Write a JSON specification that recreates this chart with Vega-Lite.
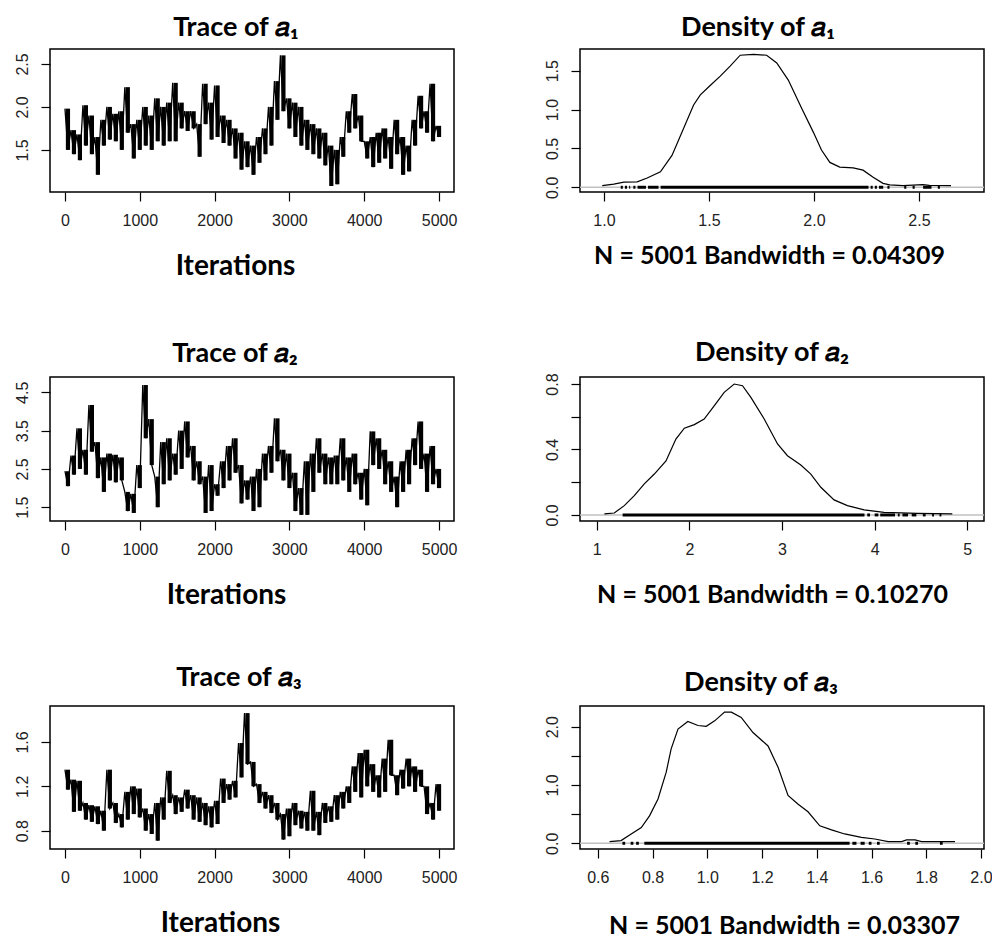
{
  "$schema": "https://vega.github.io/schema/vega-lite/v6.json",
  "background": "white",
  "padding": {"left": 13, "top": 13, "right": 5, "bottom": 5},
  "columns": 2,
  "spacing": {"row": 185, "column": 126},
  "bounds": "flush",
  "config": {
    "view": {"stroke": "black", "strokeWidth": 1.5},
    "axis": {"domain": false, "grid": false, "tickColor": "black", "tickWidth": 1.2, "tickSize": 9,
      "labelFont": "Liberation Sans", "labelFontSize": 16, "labelColor": "#222", "labelPadding": 11,
      "titleFont": "Lato", "titleFontSize": 25, "titleFontWeight": "bold", "titleColor": "black"},
    "axisY": {"labelAngle": -90, "labelAlign": "center", "labelBaseline": "top", "labelPadding": 27, "title": null},
    "title": {"font": "Lato", "fontSize": 27, "fontWeight": "bold", "color": "black", "anchor": "middle", "baseline": "alphabetic"}
  },
  "datasets": {
    "trace": [
      {"it":0,"a1":1.98,"a2":2.44,"a3":1.35},{"it":40,"a1":1.5,"a2":2.05,"a3":1.17},
      {"it":80,"a1":1.73,"a2":2.85,"a3":1.26},{"it":120,"a1":1.45,"a2":2.35,"a3":0.97},
      {"it":160,"a1":1.68,"a2":3.56,"a3":1.25},{"it":200,"a1":1.38,"a2":2.5,"a3":0.98},
      {"it":240,"a1":2.02,"a2":3.0,"a3":1.05},{"it":280,"a1":1.55,"a2":2.35,"a3":0.9},
      {"it":320,"a1":1.9,"a2":4.17,"a3":1.03},{"it":360,"a1":1.45,"a2":2.95,"a3":0.88},
      {"it":400,"a1":1.65,"a2":3.2,"a3":1.02},{"it":440,"a1":1.21,"a2":2.26,"a3":0.86},
      {"it":480,"a1":1.85,"a2":2.8,"a3":0.98},{"it":520,"a1":1.55,"a2":1.9,"a3":0.8},
      {"it":560,"a1":2.0,"a2":2.9,"a3":1.35},{"it":600,"a1":1.62,"a2":2.2,"a3":1.0},
      {"it":640,"a1":1.92,"a2":2.87,"a3":1.05},{"it":680,"a1":1.6,"a2":2.15,"a3":0.87},
      {"it":720,"a1":1.95,"a2":2.8,"a3":0.95},{"it":760,"a1":1.5,"a2":2.2,"a3":0.83},
      {"it":800,"a1":2.23,"a2":1.9,"a3":1.15},{"it":840,"a1":1.7,"a2":1.4,"a3":0.9},
      {"it":880,"a1":1.8,"a2":1.85,"a3":1.2},{"it":920,"a1":1.4,"a2":1.35,"a3":0.95},
      {"it":960,"a1":1.85,"a2":2.6,"a3":1.18},{"it":1000,"a1":1.5,"a2":2.0,"a3":0.92},
      {"it":1040,"a1":2.0,"a2":4.69,"a3":1.0},{"it":1080,"a1":1.55,"a2":3.3,"a3":0.8},
      {"it":1120,"a1":1.9,"a2":3.8,"a3":0.95},{"it":1160,"a1":1.5,"a2":2.6,"a3":0.77},
      {"it":1200,"a1":2.1,"a2":2.3,"a3":1.05},{"it":1240,"a1":1.6,"a2":1.5,"a3":0.71},
      {"it":1280,"a1":2.0,"a2":3.2,"a3":1.1},{"it":1320,"a1":1.55,"a2":2.1,"a3":0.9},
      {"it":1360,"a1":2.05,"a2":3.3,"a3":1.34},{"it":1400,"a1":1.6,"a2":2.2,"a3":1.05},
      {"it":1440,"a1":2.28,"a2":2.9,"a3":1.12},{"it":1480,"a1":1.6,"a2":2.35,"a3":0.95},
      {"it":1520,"a1":2.05,"a2":3.5,"a3":1.1},{"it":1560,"a1":1.75,"a2":2.5,"a3":0.97},
      {"it":1600,"a1":1.95,"a2":3.74,"a3":1.17},{"it":1640,"a1":1.72,"a2":2.8,"a3":1.0},
      {"it":1680,"a1":1.95,"a2":3.1,"a3":1.12},{"it":1720,"a1":1.75,"a2":2.2,"a3":0.9},
      {"it":1760,"a1":1.8,"a2":2.7,"a3":1.1},{"it":1800,"a1":1.42,"a2":2.1,"a3":0.88},
      {"it":1840,"a1":2.27,"a2":2.3,"a3":1.05},{"it":1880,"a1":1.8,"a2":1.35,"a3":0.85},
      {"it":1920,"a1":2.05,"a2":2.6,"a3":1.02},{"it":1960,"a1":1.62,"a2":1.4,"a3":0.83},
      {"it":2000,"a1":2.25,"a2":2.1,"a3":1.07},{"it":2040,"a1":1.65,"a2":1.8,"a3":0.86},
      {"it":2080,"a1":1.9,"a2":2.7,"a3":1.27},{"it":2120,"a1":1.58,"a2":2.0,"a3":1.05},
      {"it":2160,"a1":1.85,"a2":3.1,"a3":1.22},{"it":2200,"a1":1.55,"a2":2.2,"a3":1.08},
      {"it":2240,"a1":1.75,"a2":3.3,"a3":1.25},{"it":2280,"a1":1.4,"a2":2.4,"a3":1.1},
      {"it":2320,"a1":1.7,"a2":2.6,"a3":1.59},{"it":2360,"a1":1.27,"a2":1.6,"a3":1.28},
      {"it":2400,"a1":1.6,"a2":2.2,"a3":1.86},{"it":2440,"a1":1.3,"a2":1.7,"a3":1.4},
      {"it":2480,"a1":1.55,"a2":2.3,"a3":1.42},{"it":2520,"a1":1.21,"a2":1.4,"a3":1.2},
      {"it":2560,"a1":1.65,"a2":2.5,"a3":1.22},{"it":2600,"a1":1.35,"a2":1.5,"a3":1.05},
      {"it":2640,"a1":1.75,"a2":2.9,"a3":1.15},{"it":2680,"a1":1.45,"a2":2.2,"a3":1.0},
      {"it":2720,"a1":2.0,"a2":3.1,"a3":1.12},{"it":2760,"a1":1.55,"a2":2.4,"a3":0.96},
      {"it":2800,"a1":2.3,"a2":3.82,"a3":1.05},{"it":2840,"a1":1.85,"a2":2.7,"a3":0.9},
      {"it":2880,"a1":2.6,"a2":3.0,"a3":0.95},{"it":2920,"a1":1.95,"a2":2.2,"a3":0.72},
      {"it":2960,"a1":2.1,"a2":2.9,"a3":1.0},{"it":3000,"a1":1.75,"a2":2.0,"a3":0.75},
      {"it":3040,"a1":2.05,"a2":2.4,"a3":1.05},{"it":3080,"a1":1.65,"a2":1.4,"a3":0.85},
      {"it":3120,"a1":2.0,"a2":2.0,"a3":0.98},{"it":3160,"a1":1.55,"a2":1.3,"a3":0.82},
      {"it":3200,"a1":1.85,"a2":2.7,"a3":0.97},{"it":3240,"a1":1.5,"a2":1.3,"a3":0.8},
      {"it":3280,"a1":1.8,"a2":2.9,"a3":1.16},{"it":3320,"a1":1.45,"a2":1.9,"a3":0.8},
      {"it":3360,"a1":1.75,"a2":3.3,"a3":0.97},{"it":3400,"a1":1.4,"a2":2.4,"a3":0.76},
      {"it":3440,"a1":1.7,"a2":2.9,"a3":1.05},{"it":3480,"a1":1.32,"a2":2.1,"a3":0.87},
      {"it":3520,"a1":1.55,"a2":2.8,"a3":1.02},{"it":3560,"a1":1.08,"a2":2.1,"a3":0.88},
      {"it":3600,"a1":1.5,"a2":2.85,"a3":1.12},{"it":3640,"a1":1.1,"a2":2.1,"a3":0.9},
      {"it":3680,"a1":1.65,"a2":3.3,"a3":1.15},{"it":3720,"a1":1.42,"a2":2.2,"a3":1.0},
      {"it":3760,"a1":1.95,"a2":2.8,"a3":1.2},{"it":3800,"a1":1.7,"a2":1.9,"a3":1.05},
      {"it":3840,"a1":2.15,"a2":2.9,"a3":1.38},{"it":3880,"a1":1.75,"a2":2.1,"a3":1.15},
      {"it":3920,"a1":1.9,"a2":2.4,"a3":1.5},{"it":3960,"a1":1.6,"a2":1.7,"a3":1.1},
      {"it":4000,"a1":1.6,"a2":2.5,"a3":1.53},{"it":4040,"a1":1.4,"a2":1.55,"a3":1.2},
      {"it":4080,"a1":1.65,"a2":3.48,"a3":1.4},{"it":4120,"a1":1.3,"a2":2.6,"a3":1.15},
      {"it":4160,"a1":1.7,"a2":3.3,"a3":1.3},{"it":4200,"a1":1.35,"a2":2.5,"a3":1.1},
      {"it":4240,"a1":1.75,"a2":3.0,"a3":1.45},{"it":4280,"a1":1.4,"a2":2.1,"a3":1.15},
      {"it":4320,"a1":1.65,"a2":2.7,"a3":1.62},{"it":4360,"a1":1.28,"a2":1.9,"a3":1.3},
      {"it":4400,"a1":1.85,"a2":2.3,"a3":1.3},{"it":4440,"a1":1.45,"a2":1.5,"a3":1.12},
      {"it":4480,"a1":1.65,"a2":2.7,"a3":1.35},{"it":4520,"a1":1.21,"a2":1.9,"a3":1.18},
      {"it":4560,"a1":1.55,"a2":3.0,"a3":1.45},{"it":4600,"a1":1.25,"a2":2.1,"a3":1.2},
      {"it":4640,"a1":1.85,"a2":3.3,"a3":1.38},{"it":4680,"a1":1.55,"a2":2.6,"a3":1.15},
      {"it":4720,"a1":2.13,"a2":3.74,"a3":1.35},{"it":4760,"a1":1.75,"a2":2.5,"a3":1.2},
      {"it":4800,"a1":1.95,"a2":2.9,"a3":1.2},{"it":4840,"a1":1.7,"a2":1.9,"a3":0.95},
      {"it":4880,"a1":2.27,"a2":3.1,"a3":1.05},{"it":4920,"a1":1.6,"a2":2.1,"a3":0.9},
      {"it":4960,"a1":1.78,"a2":2.5,"a3":1.22},{"it":5000,"a1":1.65,"a2":2.0,"a3":0.98}
    ],
    "band": [
      {"it":40,"a1h":1.98,"a1l":1.5,"a2h":2.44,"a2l":2.05,"a3h":1.35,"a3l":1.17},
      {"it":120,"a1h":1.73,"a1l":1.45,"a2h":2.85,"a2l":2.35,"a3h":1.26,"a3l":0.97},
      {"it":200,"a1h":1.68,"a1l":1.38,"a2h":3.56,"a2l":2.5,"a3h":1.25,"a3l":0.98},
      {"it":280,"a1h":2.02,"a1l":1.55,"a2h":3.0,"a2l":2.35,"a3h":1.05,"a3l":0.9},
      {"it":360,"a1h":1.9,"a1l":1.45,"a2h":4.17,"a2l":2.95,"a3h":1.03,"a3l":0.88},
      {"it":440,"a1h":1.65,"a1l":1.21,"a2h":3.2,"a2l":2.26,"a3h":1.02,"a3l":0.86},
      {"it":520,"a1h":1.85,"a1l":1.55,"a2h":2.8,"a2l":1.9,"a3h":0.98,"a3l":0.8},
      {"it":600,"a1h":2.0,"a1l":1.62,"a2h":2.9,"a2l":2.2,"a3h":1.35,"a3l":1.0},
      {"it":680,"a1h":1.92,"a1l":1.6,"a2h":2.87,"a2l":2.15,"a3h":1.05,"a3l":0.87},
      {"it":760,"a1h":1.95,"a1l":1.5,"a2h":2.8,"a2l":2.2,"a3h":0.95,"a3l":0.83},
      {"it":840,"a1h":2.23,"a1l":1.7,"a2h":1.9,"a2l":1.4,"a3h":1.15,"a3l":0.9},
      {"it":920,"a1h":1.8,"a1l":1.4,"a2h":1.85,"a2l":1.35,"a3h":1.2,"a3l":0.95},
      {"it":1000,"a1h":1.85,"a1l":1.5,"a2h":2.6,"a2l":2.0,"a3h":1.18,"a3l":0.92},
      {"it":1080,"a1h":2.0,"a1l":1.55,"a2h":4.69,"a2l":3.3,"a3h":1.0,"a3l":0.8},
      {"it":1160,"a1h":1.9,"a1l":1.5,"a2h":3.8,"a2l":2.6,"a3h":0.95,"a3l":0.77},
      {"it":1240,"a1h":2.1,"a1l":1.6,"a2h":2.3,"a2l":1.5,"a3h":1.05,"a3l":0.71},
      {"it":1320,"a1h":2.0,"a1l":1.55,"a2h":3.2,"a2l":2.1,"a3h":1.1,"a3l":0.9},
      {"it":1400,"a1h":2.05,"a1l":1.6,"a2h":3.3,"a2l":2.2,"a3h":1.34,"a3l":1.05},
      {"it":1480,"a1h":2.28,"a1l":1.6,"a2h":2.9,"a2l":2.35,"a3h":1.12,"a3l":0.95},
      {"it":1560,"a1h":2.05,"a1l":1.75,"a2h":3.5,"a2l":2.5,"a3h":1.1,"a3l":0.97},
      {"it":1640,"a1h":1.95,"a1l":1.72,"a2h":3.74,"a2l":2.8,"a3h":1.17,"a3l":1.0},
      {"it":1720,"a1h":1.95,"a1l":1.75,"a2h":3.1,"a2l":2.2,"a3h":1.12,"a3l":0.9},
      {"it":1800,"a1h":1.8,"a1l":1.42,"a2h":2.7,"a2l":2.1,"a3h":1.1,"a3l":0.88},
      {"it":1880,"a1h":2.27,"a1l":1.8,"a2h":2.3,"a2l":1.35,"a3h":1.05,"a3l":0.85},
      {"it":1960,"a1h":2.05,"a1l":1.62,"a2h":2.6,"a2l":1.4,"a3h":1.02,"a3l":0.83},
      {"it":2040,"a1h":2.25,"a1l":1.65,"a2h":2.1,"a2l":1.8,"a3h":1.07,"a3l":0.86},
      {"it":2120,"a1h":1.9,"a1l":1.58,"a2h":2.7,"a2l":2.0,"a3h":1.27,"a3l":1.05},
      {"it":2200,"a1h":1.85,"a1l":1.55,"a2h":3.1,"a2l":2.2,"a3h":1.22,"a3l":1.08},
      {"it":2280,"a1h":1.75,"a1l":1.4,"a2h":3.3,"a2l":2.4,"a3h":1.25,"a3l":1.1},
      {"it":2360,"a1h":1.7,"a1l":1.27,"a2h":2.6,"a2l":1.6,"a3h":1.59,"a3l":1.28},
      {"it":2440,"a1h":1.6,"a1l":1.3,"a2h":2.2,"a2l":1.7,"a3h":1.86,"a3l":1.4},
      {"it":2520,"a1h":1.55,"a1l":1.21,"a2h":2.3,"a2l":1.4,"a3h":1.42,"a3l":1.2},
      {"it":2600,"a1h":1.65,"a1l":1.35,"a2h":2.5,"a2l":1.5,"a3h":1.22,"a3l":1.05},
      {"it":2680,"a1h":1.75,"a1l":1.45,"a2h":2.9,"a2l":2.2,"a3h":1.15,"a3l":1.0},
      {"it":2760,"a1h":2.0,"a1l":1.55,"a2h":3.1,"a2l":2.4,"a3h":1.12,"a3l":0.96},
      {"it":2840,"a1h":2.3,"a1l":1.85,"a2h":3.82,"a2l":2.7,"a3h":1.05,"a3l":0.9},
      {"it":2920,"a1h":2.6,"a1l":1.95,"a2h":3.0,"a2l":2.2,"a3h":0.95,"a3l":0.72},
      {"it":3000,"a1h":2.1,"a1l":1.75,"a2h":2.9,"a2l":2.0,"a3h":1.0,"a3l":0.75},
      {"it":3080,"a1h":2.05,"a1l":1.65,"a2h":2.4,"a2l":1.4,"a3h":1.05,"a3l":0.85},
      {"it":3160,"a1h":2.0,"a1l":1.55,"a2h":2.0,"a2l":1.3,"a3h":0.98,"a3l":0.82},
      {"it":3240,"a1h":1.85,"a1l":1.5,"a2h":2.7,"a2l":1.3,"a3h":0.97,"a3l":0.8},
      {"it":3320,"a1h":1.8,"a1l":1.45,"a2h":2.9,"a2l":1.9,"a3h":1.16,"a3l":0.8},
      {"it":3400,"a1h":1.75,"a1l":1.4,"a2h":3.3,"a2l":2.4,"a3h":0.97,"a3l":0.76},
      {"it":3480,"a1h":1.7,"a1l":1.32,"a2h":2.9,"a2l":2.1,"a3h":1.05,"a3l":0.87},
      {"it":3560,"a1h":1.55,"a1l":1.08,"a2h":2.8,"a2l":2.1,"a3h":1.02,"a3l":0.88},
      {"it":3640,"a1h":1.5,"a1l":1.1,"a2h":2.85,"a2l":2.1,"a3h":1.12,"a3l":0.9},
      {"it":3720,"a1h":1.65,"a1l":1.42,"a2h":3.3,"a2l":2.2,"a3h":1.15,"a3l":1.0},
      {"it":3800,"a1h":1.95,"a1l":1.7,"a2h":2.8,"a2l":1.9,"a3h":1.2,"a3l":1.05},
      {"it":3880,"a1h":2.15,"a1l":1.75,"a2h":2.9,"a2l":2.1,"a3h":1.38,"a3l":1.15},
      {"it":3960,"a1h":1.9,"a1l":1.6,"a2h":2.4,"a2l":1.7,"a3h":1.5,"a3l":1.1},
      {"it":4040,"a1h":1.6,"a1l":1.4,"a2h":2.5,"a2l":1.55,"a3h":1.53,"a3l":1.2},
      {"it":4120,"a1h":1.65,"a1l":1.3,"a2h":3.48,"a2l":2.6,"a3h":1.4,"a3l":1.15},
      {"it":4200,"a1h":1.7,"a1l":1.35,"a2h":3.3,"a2l":2.5,"a3h":1.3,"a3l":1.1},
      {"it":4280,"a1h":1.75,"a1l":1.4,"a2h":3.0,"a2l":2.1,"a3h":1.45,"a3l":1.15},
      {"it":4360,"a1h":1.65,"a1l":1.28,"a2h":2.7,"a2l":1.9,"a3h":1.62,"a3l":1.3},
      {"it":4440,"a1h":1.85,"a1l":1.45,"a2h":2.3,"a2l":1.5,"a3h":1.3,"a3l":1.12},
      {"it":4520,"a1h":1.65,"a1l":1.21,"a2h":2.7,"a2l":1.9,"a3h":1.35,"a3l":1.18},
      {"it":4600,"a1h":1.55,"a1l":1.25,"a2h":3.0,"a2l":2.1,"a3h":1.45,"a3l":1.2},
      {"it":4680,"a1h":1.85,"a1l":1.55,"a2h":3.3,"a2l":2.6,"a3h":1.38,"a3l":1.15},
      {"it":4760,"a1h":2.13,"a1l":1.75,"a2h":3.74,"a2l":2.5,"a3h":1.35,"a3l":1.2},
      {"it":4840,"a1h":1.95,"a1l":1.7,"a2h":2.9,"a2l":1.9,"a3h":1.2,"a3l":0.95},
      {"it":4920,"a1h":2.27,"a1l":1.6,"a2h":3.1,"a2l":2.1,"a3h":1.05,"a3l":0.9},
      {"it":5000,"a1h":1.78,"a1l":1.65,"a2h":2.5,"a2l":2.0,"a3h":1.22,"a3l":0.98}
    ],
    "d1": [
      {"x":0.992,"d":0.02},{"x":1.047,"d":0.04},{"x":1.095,"d":0.065},{"x":1.158,"d":0.07},{"x":1.206,"d":0.12},
      {"x":1.269,"d":0.2},{"x":1.324,"d":0.41},{"x":1.372,"d":0.71},{"x":1.427,"d":1.06},{"x":1.459,"d":1.19},
      {"x":1.506,"d":1.31},{"x":1.554,"d":1.43},{"x":1.601,"d":1.56},{"x":1.649,"d":1.7},{"x":1.712,"d":1.71},
      {"x":1.775,"d":1.7},{"x":1.823,"d":1.6},{"x":1.878,"d":1.38},{"x":1.941,"d":1.02},{"x":1.997,"d":0.71},
      {"x":2.036,"d":0.48},{"x":2.076,"d":0.32},{"x":2.123,"d":0.26},{"x":2.187,"d":0.25},{"x":2.234,"d":0.22},
      {"x":2.282,"d":0.13},{"x":2.329,"d":0.05},{"x":2.361,"d":0.03},{"x":2.424,"d":0.02},{"x":2.519,"d":0.035},
      {"x":2.55,"d":0.025},{"x":2.653,"d":0.02}
    ],
    "d2": [
      {"x":1.083,"d":0.006},{"x":1.19,"d":0.012},{"x":1.298,"d":0.057},{"x":1.406,"d":0.118},{"x":1.514,"d":0.19},
      {"x":1.622,"d":0.25},{"x":1.748,"d":0.33},{"x":1.855,"d":0.464},{"x":1.946,"d":0.53},{"x":2.054,"d":0.552},
      {"x":2.16,"d":0.586},{"x":2.27,"d":0.668},{"x":2.376,"d":0.749},{"x":2.484,"d":0.8},{"x":2.574,"d":0.79},
      {"x":2.664,"d":0.718},{"x":2.808,"d":0.586},{"x":2.952,"d":0.434},{"x":3.059,"d":0.362},{"x":3.203,"d":0.305},
      {"x":3.311,"d":0.25},{"x":3.419,"d":0.169},{"x":3.562,"d":0.092},{"x":3.706,"d":0.057},{"x":3.886,"d":0.031},
      {"x":4.101,"d":0.016},{"x":4.461,"d":0.01},{"x":4.838,"d":0.006}
    ],
    "d3": [
      {"x":0.643,"d":0.03},{"x":0.685,"d":0.046},{"x":0.722,"d":0.16},{"x":0.759,"d":0.27},{"x":0.789,"d":0.47},
      {"x":0.82,"d":0.76},{"x":0.85,"d":1.22},{"x":0.868,"d":1.62},{"x":0.893,"d":1.96},{"x":0.929,"d":2.09},
      {"x":0.966,"d":2.02},{"x":0.996,"d":2.006},{"x":1.027,"d":2.1},{"x":1.063,"d":2.25},{"x":1.088,"d":2.25},
      {"x":1.124,"d":2.16},{"x":1.167,"d":1.9},{"x":1.222,"d":1.67},{"x":1.259,"d":1.3},{"x":1.295,"d":0.82},
      {"x":1.332,"d":0.67},{"x":1.368,"d":0.54},{"x":1.411,"d":0.3},{"x":1.454,"d":0.23},{"x":1.502,"d":0.16},
      {"x":1.563,"d":0.1},{"x":1.612,"d":0.074},{"x":1.661,"d":0.03},{"x":1.71,"d":0.03},{"x":1.728,"d":0.057},
      {"x":1.759,"d":0.057},{"x":1.783,"d":0.03},{"x":1.905,"d":0.03}
    ],
    "r1": [
      {"x":1.08,"x2":1.09},{"x":1.1,"x2":1.11},{"x":1.12,"x2":1.125},{"x":1.14,"x2":1.15},{"x":1.16,"x2":1.2},
      {"x":1.21,"x2":1.26},{"x":1.27,"x2":2.26},{"x":2.27,"x2":2.28},{"x":2.29,"x2":2.3},{"x":2.31,"x2":2.33},
      {"x":2.35,"x2":2.36},{"x":2.43,"x2":2.44},{"x":2.47,"x2":2.48},{"x":2.52,"x2":2.56},{"x":2.59,"x2":2.6}
    ],
    "r2": [
      {"x":1.28,"x2":3.89},{"x":3.92,"x2":3.95},{"x":4.0,"x2":4.04},{"x":4.06,"x2":4.22},{"x":4.25,"x2":4.27},
      {"x":4.3,"x2":4.36},{"x":4.4,"x2":4.45},{"x":4.52,"x2":4.55},{"x":4.62,"x2":4.64},{"x":4.7,"x2":4.72}
    ],
    "r3": [
      {"x":0.69,"x2":0.7},{"x":0.72,"x2":0.73},{"x":0.74,"x2":0.75},{"x":0.77,"x2":1.52},{"x":1.53,"x2":1.545},
      {"x":1.56,"x2":1.575},{"x":1.59,"x2":1.6},{"x":1.62,"x2":1.63},{"x":1.73,"x2":1.74},{"x":1.76,"x2":1.77},
      {"x":1.85,"x2":1.86}
    ]
  },
  "concat": [
    {
      "width": 404, "height": 143,
      "title": {"text": "Trace of 𝑎₁", "dx": -16, "offset": 7},
      "encoding": {
        "x": {"field": "it", "type": "quantitative", "scale": {"domain": [-200, 5200], "nice": false, "zero": false},
          "axis": {"values": [0, 1000, 2000, 3000, 4000, 5000], "format": "d", "title": "Iterations", "titleFontSize": 28, "titleX": 185, "titlePadding": 24}}
      },
      "layer": [
        {"data": {"name": "band"}, "mark": {"type": "rule", "color": "black", "strokeWidth": 4.2},
          "encoding": {"y": {"field": "a1l", "type": "quantitative", "scale": {"domain": [1.01, 2.674], "nice": false, "zero": false},
            "axis": {"values": [1.5, 2.0, 2.5], "format": ".1f"}}, "y2": {"field": "a1h"}}},
        {"data": {"name": "trace"}, "mark": {"type": "line", "color": "black", "strokeWidth": 1.3},
          "encoding": {"y": {"field": "a1", "type": "quantitative"}}}
      ]
    },
    {
      "width": 404, "height": 143,
      "title": {"text": "Density of 𝑎₁", "dx": -24, "offset": 7},
      "layer": [
        {"data": {"values": [{}]}, "mark": {"type": "rule", "color": "#c0c0c0", "strokeWidth": 1.5},
          "encoding": {"y": {"datum": 0, "type": "quantitative"}}},
        {"data": {"name": "r1"}, "mark": {"type": "rule", "color": "black", "strokeWidth": 3},
          "encoding": {"x": {"field": "x", "type": "quantitative"}, "x2": {"field": "x2"}, "y": {"datum": 0, "type": "quantitative"}}},
        {"data": {"name": "d1"}, "mark": {"type": "line", "color": "black", "strokeWidth": 1.2},
          "encoding": {"x": {"field": "x", "type": "quantitative"}, "y": {"field": "d", "type": "quantitative"}}}
      ],
      "encoding": {
        "x": {"type": "quantitative", "scale": {"domain": [0.886, 2.81], "nice": false, "zero": false},
          "axis": {"values": [1.0, 1.5, 2.0, 2.5], "format": ".1f", "title": "N = 5001 Bandwidth = 0.04309", "titleX": 189, "titlePadding": 15}},
        "y": {"type": "quantitative", "scale": {"domain": [-0.061, 1.78], "nice": false, "zero": false},
          "axis": {"values": [0, 0.5, 1.0, 1.5], "format": ".1f"}}
      }
    },
    {
      "width": 404, "height": 144,
      "title": {"text": "Trace of  𝑎₂", "dx": -17, "offset": 9},
      "encoding": {
        "x": {"field": "it", "type": "quantitative", "scale": {"domain": [-200, 5200], "nice": false, "zero": false},
          "axis": {"values": [0, 1000, 2000, 3000, 4000, 5000], "format": "d", "title": "Iterations", "titleFontSize": 28, "titleX": 176, "titlePadding": 24}}
      },
      "layer": [
        {"data": {"name": "band"}, "mark": {"type": "rule", "color": "black", "strokeWidth": 4.2},
          "encoding": {"y": {"field": "a2l", "type": "quantitative", "scale": {"domain": [1.14, 4.9], "nice": false, "zero": false},
            "axis": {"values": [1.5, 2.0, 2.5, 3.0, 3.5, 4.0, 4.5], "format": ".1f", "labelExpr": "round(datum.value*2) % 2 == 1 ? datum.label : ''"}}, "y2": {"field": "a2h"}}},
        {"data": {"name": "trace"}, "mark": {"type": "line", "color": "black", "strokeWidth": 1.3},
          "encoding": {"y": {"field": "a2", "type": "quantitative"}}}
      ]
    },
    {
      "width": 404, "height": 144,
      "title": {"text": "Density of 𝑎₂", "dx": -10, "offset": 6},
      "layer": [
        {"data": {"values": [{}]}, "mark": {"type": "rule", "color": "#c0c0c0", "strokeWidth": 1.5},
          "encoding": {"y": {"datum": 0, "type": "quantitative"}}},
        {"data": {"name": "r2"}, "mark": {"type": "rule", "color": "black", "strokeWidth": 3},
          "encoding": {"x": {"field": "x", "type": "quantitative"}, "x2": {"field": "x2"}, "y": {"datum": 0, "type": "quantitative"}}},
        {"data": {"name": "d2"}, "mark": {"type": "line", "color": "black", "strokeWidth": 1.2},
          "encoding": {"x": {"field": "x", "type": "quantitative"}, "y": {"field": "d", "type": "quantitative"}}}
      ],
      "encoding": {
        "x": {"type": "quantitative", "scale": {"domain": [0.82, 5.18], "nice": false, "zero": false},
          "axis": {"values": [1, 2, 3, 4, 5], "format": "d", "title": "N = 5001 Bandwidth = 0.10270", "titleX": 192, "titlePadding": 25}},
        "y": {"type": "quantitative", "scale": {"domain": [-0.037, 0.843], "nice": false, "zero": false},
          "axis": {"values": [0, 0.2, 0.4, 0.6, 0.8], "format": ".1f", "labelExpr": "round(datum.value*10) % 4 == 0 ? datum.label : ''"}}
      }
    },
    {
      "width": 404, "height": 143,
      "title": {"text": "Trace of 𝑎₃", "dx": -13, "offset": 14},
      "encoding": {
        "x": {"field": "it", "type": "quantitative", "scale": {"domain": [-200, 5200], "nice": false, "zero": false},
          "axis": {"values": [0, 1000, 2000, 3000, 4000, 5000], "format": "d", "title": "Iterations", "titleFontSize": 28, "titleX": 170, "titlePadding": 24}}
      },
      "layer": [
        {"data": {"name": "band"}, "mark": {"type": "rule", "color": "black", "strokeWidth": 4.2},
          "encoding": {"y": {"field": "a3l", "type": "quantitative", "scale": {"domain": [0.635, 1.924], "nice": false, "zero": false},
            "axis": {"values": [0.8, 1.0, 1.2, 1.4, 1.6, 1.8], "format": ".1f", "labelExpr": "round(datum.value*10) % 4 == 0 ? datum.label : ''"}}, "y2": {"field": "a3h"}}},
        {"data": {"name": "trace"}, "mark": {"type": "line", "color": "black", "strokeWidth": 1.3},
          "encoding": {"y": {"field": "a3", "type": "quantitative"}}}
      ]
    },
    {
      "width": 404, "height": 143,
      "title": {"text": "Density of 𝑎₃", "dx": -21, "offset": 9},
      "layer": [
        {"data": {"values": [{}]}, "mark": {"type": "rule", "color": "#c0c0c0", "strokeWidth": 1.5},
          "encoding": {"y": {"datum": 0, "type": "quantitative"}}},
        {"data": {"name": "r3"}, "mark": {"type": "rule", "color": "black", "strokeWidth": 3},
          "encoding": {"x": {"field": "x", "type": "quantitative"}, "x2": {"field": "x2"}, "y": {"datum": 0, "type": "quantitative"}}},
        {"data": {"name": "d3"}, "mark": {"type": "line", "color": "black", "strokeWidth": 1.2},
          "encoding": {"x": {"field": "x", "type": "quantitative"}, "y": {"field": "d", "type": "quantitative"}}}
      ],
      "encoding": {
        "x": {"type": "quantitative", "scale": {"domain": [0.535, 2.011], "nice": false, "zero": false},
          "axis": {"values": [0.6, 0.8, 1.0, 1.2, 1.4, 1.6, 1.8, 2.0], "format": ".1f", "title": "N = 5001 Bandwidth = 0.03307", "titleX": 204, "titlePadding": 28}},
        "y": {"type": "quantitative", "scale": {"domain": [-0.098, 2.355], "nice": false, "zero": false},
          "axis": {"values": [0, 0.5, 1.0, 1.5, 2.0], "format": ".1f", "labelExpr": "round(datum.value*2) % 2 == 0 ? datum.label : ''"}}
      }
    }
  ]
}
